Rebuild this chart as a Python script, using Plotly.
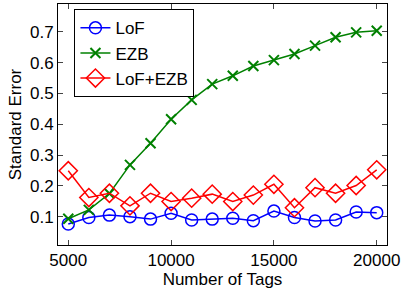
import plotly.graph_objects as go

tags = [5000, 6000, 7000, 8000, 9000, 10000, 11000, 12000, 13000, 14000,
        15000, 16000, 17000, 18000, 19000, 20000]
lof = [0.076, 0.097, 0.105, 0.100, 0.092, 0.111, 0.089, 0.092, 0.095, 0.087,
       0.118, 0.097, 0.086, 0.089, 0.115, 0.113]
ezb = [0.093, 0.122, 0.175, 0.268, 0.338, 0.416, 0.479, 0.530, 0.557, 0.589,
       0.608, 0.628, 0.655, 0.682, 0.698, 0.703]
lof_ezb = [0.249, 0.162, 0.176, 0.135, 0.176, 0.149, 0.160, 0.173, 0.149, 0.170,
           0.205, 0.129, 0.194, 0.176, 0.201, 0.252]
x_ticks = [5000, 10000, 15000, 20000]
x_labels = ["5000", "10000", "15000", "20000"]
y_ticks = [0.1, 0.2, 0.3, 0.4, 0.5, 0.6, 0.7]
y_labels = ["0.1", "0.2", "0.3", "0.4", "0.5", "0.6", "0.7"]

fig = go.Figure()
fig.add_trace(go.Scatter(x=tags, y=lof, name="LoF", mode="lines+markers",
                         line=dict(color="#0000ff", width=1.5),
                         marker=dict(symbol="circle-open", size=12, color="#0000ff",
                                     line=dict(width=1.5))))
fig.add_trace(go.Scatter(x=tags, y=ezb, name="EZB", mode="lines+markers",
                         line=dict(color="#008000", width=1.5),
                         marker=dict(symbol="x-thin-open", size=10, color="#008000",
                                     line=dict(width=2, color="#008000"))))
fig.add_trace(go.Scatter(x=tags, y=lof_ezb, name="LoF+EZB", mode="lines+markers",
                         line=dict(color="#ff0000", width=1.5),
                         marker=dict(symbol="diamond-open", size=14, color="#ff0000",
                                     line=dict(width=1.5))))

font = "Liberation Sans, Arial, sans-serif"
fig.update_layout(
    width=401, height=292,
    margin=dict(l=58, r=14, t=4, b=47, autoexpand=False),
    paper_bgcolor="white", plot_bgcolor="white",
    font=dict(family=font, size=17, color="black"),
    xaxis=dict(range=[4500, 20500], tickvals=x_ticks, ticktext=x_labels,
               ticks="inside", ticklen=5, tickfont=dict(size=17),
               showline=True, linecolor="black", linewidth=1, mirror="ticks",
               showgrid=False, zeroline=False, automargin=False,
               title=dict(text="Number of Tags", font=dict(size=17), standoff=2)),
    yaxis=dict(range=[0.008, 0.79], tickvals=y_ticks, ticktext=y_labels,
               ticks="inside", ticklen=5, tickfont=dict(size=17),
               showline=True, linecolor="black", linewidth=1, mirror="ticks",
               showgrid=False, zeroline=False, automargin=False,
               title=dict(text="Standard Error", font=dict(size=17), standoff=4)),
    legend=dict(x=0.05, y=0.978, xanchor="left", yanchor="top",
                bgcolor="white", bordercolor="black", borderwidth=1,
                font=dict(size=17), tracegroupgap=0, itemwidth=30),
    showlegend=True,
)
fig.write_html("out.html", config={"displayModeBar": False},
               post_script="document.body.style.margin='0';document.body.style.padding='0';")
